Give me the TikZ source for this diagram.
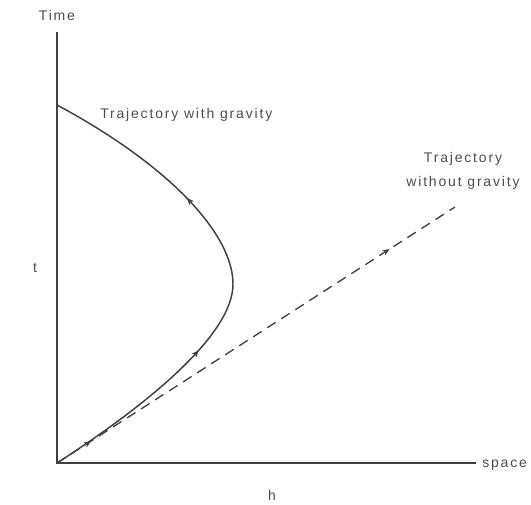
\documentclass[tikz,border=0pt]{standalone}
\usepackage{fontspec}
\newfontfamily\lblfont[LetterSpace=13]{Liberation Sans}
\usetikzlibrary{arrows.meta, decorations.markings, calc}
\tikzset{
  axisline/.style={line width=1.1pt, black!75},
  lbl/.style={font=\lblfont\fontsize{10.5}{18}\selectfont, text=black!70, inner sep=0pt},
  trajline/.style={line width=1.1pt, black!75},
  nograv/.style={line width=1pt, black!75, dash pattern=on 7.5pt off 5pt},
  tip/.style={decoration={markings,
      mark=at position #1 with {\arrow{Stealth[length=5pt,width=4pt]}}},
    postaction={decorate}},
}
\begin{document}
\begin{tikzpicture}[x=0.75pt, y=-0.75pt]
  \useasboundingbox (0,0) rectangle (531,504);
  % axes
  \coordinate (O) at (57,463);
  \coordinate (ttop) at (57,32);
  \coordinate (hend) at (476,463);
  \coordinate (apex) at (233,284);
  \coordinate (land) at (57,105);
  \coordinate (free) at (455,207);
  \draw[axisline] (ttop) -- (O) -- (hend);
  \node[lbl] (time) at (57,15) {Time};
  \node[lbl, anchor=west] (space) at (482,465) {space};
  \node[lbl] (tlab) at (35,268) {t};
  \node[lbl] (hlab) at (272,495) {h};
  % trajectories
  \draw[trajline, tip=0.35, tip=0.69] (O)
    .. controls (150,403) and (233,334) .. (apex)
    .. controls (233,234) and (169,165) .. (land);
  \draw[nograv, tip=0.085, tip=0.835] (O) -- (free);
  \node[lbl, anchor=north west] (wgrav) at (100,108) {Trajectory with gravity};
  \node[lbl, align=center] (nogravlab) at (463,171)
    {Trajectory\\without gravity};
\end{tikzpicture}
\end{document}
